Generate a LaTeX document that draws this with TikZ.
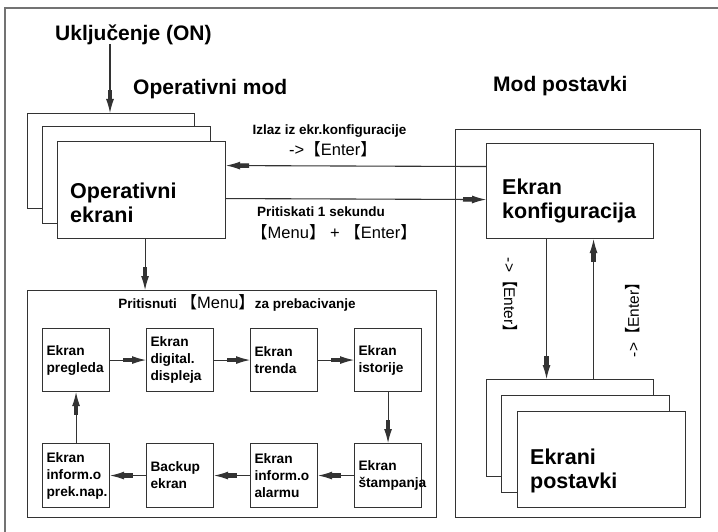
\documentclass[tikz,border=0pt]{standalone}
\usepackage{fontspec}
\setmainfont{Liberation Sans}
\newfontfamily\cjk{Noto Sans CJK SC}
\usetikzlibrary{arrows.meta}
\newcommand\lbr{{\cjk 【}}
\newcommand\rbr{{\cjk 】}}
\begin{document}
\begin{tikzpicture}[x=1pt,y=-1pt,
  ln/.style={draw=black!80, line width=1.1pt},
  arr/.style={ln, -{Rectangle[length=9pt,width=4.5pt]Latex[length=14pt,width=8pt]}},
  ebox/.style={ln, fill=white, inner sep=0pt, anchor=north west},
  sbox/.style={ln, fill=white, anchor=north west, minimum width=67pt, minimum height=63pt,
    text width=59pt, inner xsep=4pt, inner ysep=0pt, align=left,
    font=\bfseries\fontsize{13.7}{17}\selectfont},
  ttl/.style={inner sep=0pt, font=\bfseries\fontsize{21}{24}\selectfont},
  big/.style={inner sep=0pt, align=left, anchor=north west, font=\bfseries\fontsize{21.5}{23.5}\selectfont},
  sml/.style={inner sep=0pt, font=\bfseries\fontsize{13.5}{16}\selectfont},
  key/.style={font=\fontsize{16.5}{18}\selectfont},
]
\useasboundingbox (0,0) rectangle (718,532);
% outer frame
\draw[draw=black!55, line width=2pt] (5,532) -- (5,8) -- (718,8);

% titles
\node[ttl, anchor=base west] (on) at (55,41) {Uključenje (ON)};
\node[ttl, anchor=base west] (opmod) at (133,95) {Operativni mod};
\node[ttl, anchor=base west] (modpt) at (493,92) {Mod postavki};

% operating screens stack
\node[ebox, minimum width=167pt, minimum height=95pt] (op1) at (27,113) {};
\node[ebox, minimum width=168pt, minimum height=97pt] (op2) at (42,126) {};
\node[ebox, minimum width=168pt, minimum height=97pt] (op3) at (57,141) {};
\node[big] (opt) at (70,183) {Operativni\\ekrani};

% settings mode frame
\node[ebox, minimum width=245pt, minimum height=388pt] (modp) at (455,129) {};
\node[ebox, minimum width=167pt, minimum height=95pt] (cfg) at (486,143) {};
\node[big, font=\bfseries\fontsize{21.5}{24}\selectfont] (cfgt) at (502,179) {Ekran\\konfiguracija};

% settings screens stack
\node[ebox, minimum width=167pt, minimum height=97pt] (ps1) at (486,379) {};
\node[ebox, minimum width=168pt, minimum height=97pt] (ps2) at (501,395) {};
\node[ebox, minimum width=168pt, minimum height=96pt] (ps3) at (517,411) {};
\node[big, font=\bfseries\fontsize{21.5}{24}\selectfont] (pst) at (530,448.5) {Ekrani\\postavki};

% lower menu frame
\node[ebox, minimum width=409pt, minimum height=227pt] (menu) at (27,290) {};
\node[sml, anchor=base] (menut) at (237,308) {Pritisnuti {\mdseries\fontsize{16.5}{18}\selectfont\lbr Menu\rbr}za prebacivanje};

\node[sbox] (b1) at (42,328) {Ekran\\pregleda};
\node[sbox] (b2) at (146,328) {Ekran\\digital.\\displeja};
\node[sbox] (b3) at (250,328) {Ekran\\trenda};
\node[sbox] (b4) at (354,328) {Ekran\\istorije};
\node[sbox, minimum height=64pt] (b8) at (42,443) {Ekran\\inform.o\\prek.nap.};
\node[sbox, minimum height=64pt] (b7) at (146,443) {Backup\\ekran};
\node[sbox, minimum height=64pt] (b6) at (250,443) {Ekran\\inform.o\\alarmu};
\node[sbox, minimum height=64pt] (b5) at (354,443) {Ekran\\štampanja};

% connectors
\coordinate (onpt) at (110,44);
\draw[arr] (onpt) -- (onpt |- op1.north);
\draw[arr] ([yshift=24.5pt]cfg.west) -- ([yshift=24.5pt]op3.east);
\draw[arr] ([yshift=-8.5pt]op3.east) -- ([yshift=-8.5pt]cfg.west);
\draw[arr] ([xshift=3.5pt]op3.south) -- ([xshift=3.5pt]op3.south |- menu.north);
\draw[arr] ([xshift=-23.5pt]cfg.south) -- ([xshift=-23.5pt]ps1.north);
\draw[arr] ([xshift=23.5pt]ps1.north) -- ([xshift=23.5pt]cfg.south);

\draw[arr] (b1) -- (b2);
\draw[arr] (b2) -- (b3);
\draw[arr] (b3) -- (b4);
\draw[arr] (b4) -- (b5);
\draw[arr] (b5) -- (b6);
\draw[arr] (b6) -- (b7);
\draw[arr] (b7) -- (b8);
\draw[arr] (b8) -- (b1);

% labels on connectors
\node[sml, anchor=base] (l1) at (329.5,135) {Izlaz iz ekr.konfiguracije};
\node[key, inner sep=0pt, anchor=base] (l2) at (333,156) {->\lbr Enter\rbr};
\node[sml, anchor=base] (l3) at (321,216) {Pritiskati 1 sekundu};
\node[key, inner sep=0pt, anchor=base] (l4) at (334,238) {\lbr Menu\rbr\ + \lbr Enter\rbr};
\node[key, inner sep=0pt, rotate=-90, font=\fontsize{15.5}{17}\selectfont] (l5) at (510,299) {->\lbr Enter\rbr};
\node[key, inner sep=0pt, rotate=90, font=\fontsize{15.5}{17}\selectfont] (l6) at (633,316) {->\lbr Enter\rbr};
\end{tikzpicture}
\end{document}
